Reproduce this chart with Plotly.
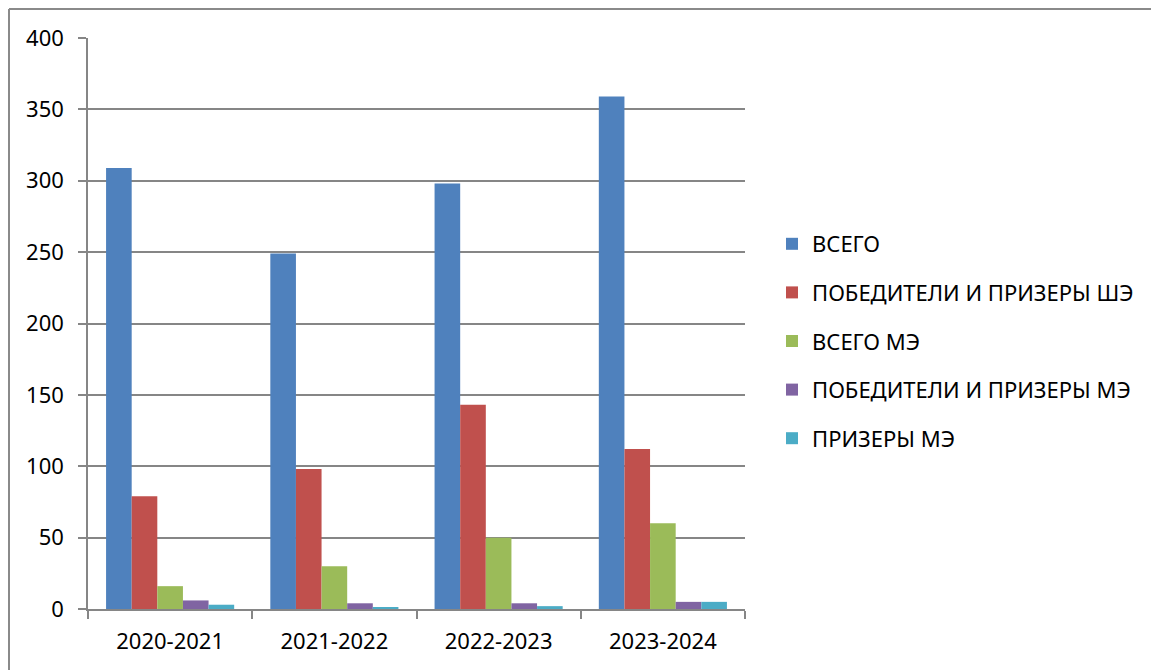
import plotly.graph_objects as go

categories = ["2020-2021", "2021-2022", "2022-2023", "2023-2024"]
series_names = ["ВСЕГО", "ПОБЕДИТЕЛИ И ПРИЗЕРЫ ШЭ", "ВСЕГО МЭ",
                "ПОБЕДИТЕЛИ И ПРИЗЕРЫ МЭ", "ПРИЗЕРЫ МЭ"]
vsego = [309, 249, 298, 359]
pobediteli_she = [79, 98, 143, 112]
vsego_me = [16, 30, 50, 60]
pobediteli_me = [6, 4, 4, 5]
prizery_me = [3, 1, 2, 5]
colors = ["#4F81BD", "#C0504D", "#9BBB59", "#8064A2", "#4BACC6"]

series_values = [vsego, pobediteli_she, vsego_me, pobediteli_me, prizery_me]

# page body has an 8px margin; figure sized to fit in the window
W, H = 1151, 662
L, T = 80, 30
pw, ph = 657, 571
R = W - L - pw
B = H - T - ph

fig = go.Figure()
for i, (name, vals) in enumerate(zip(series_names, series_values)):
    fig.add_trace(go.Bar(
        x=categories, y=vals, name=name,
        marker=dict(color=colors[i], line=dict(width=0)),
        legendgroup=f"g{i}",
    ))

font = "Noto Sans"
grid = "#868686"

fig.update_layout(
    width=W, height=H,
    margin=dict(l=L, r=R, t=T, b=B, pad=0),
    paper_bgcolor="white", plot_bgcolor="white",
    barmode="group", bargap=0.22, bargroupgap=0,
    font=dict(family=font, size=22, color="black"),
    showlegend=True,
    legend=dict(
        x=(764 - L) / pw, xanchor="left",
        y=(601 - 333) / ph, yanchor="middle",
        traceorder="grouped", tracegroupgap=17,
        font=dict(family=font, size=22, color="black"),
        bgcolor="rgba(0,0,0,0)",
    ),
    xaxis=dict(
        showline=True, linecolor=grid, linewidth=1.5,
        ticks="outside", ticklen=8, tickcolor=grid, tickwidth=1.5,
        tickson="boundaries", showgrid=False,
        tickfont=dict(family=font, size=22),
        ticklabelstandoff=12,
    ),
    yaxis=dict(
        range=[0, 400], dtick=50,
        showline=True, linecolor=grid, linewidth=1.5,
        ticks="outside", ticklen=8, tickcolor=grid, tickwidth=1.5,
        showgrid=True, gridcolor=grid, gridwidth=1.5,
        zeroline=False,
        tickfont=dict(family=font, size=22),
        ticklabelstandoff=10,
    ),
)

# outer chart frame (left and top edges visible)
fx = (1 - L) / pw
fy = 1 + (T - 1) / ph
fx_right = (W - L) / pw
fig.add_shape(type="line", xref="paper", yref="paper",
              x0=fx, y0=-0.2, x1=fx, y1=fy,
              line=dict(color="#8a8a8a", width=2))
fig.add_shape(type="line", xref="paper", yref="paper",
              x0=fx, y0=fy, x1=fx_right, y1=fy,
              line=dict(color="#8a8a8a", width=2))

fig.write_html("out.html")
